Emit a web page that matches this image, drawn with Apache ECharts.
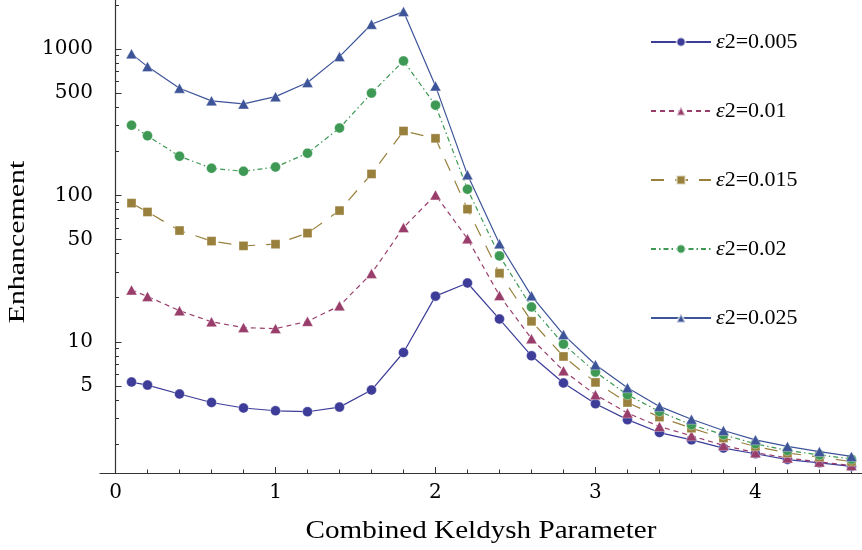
<!DOCTYPE html>
<html>
<head>
<meta charset="utf-8">
<script src="https://cdn.jsdelivr.net/npm/echarts@6/dist/echarts.min.js"></script>
<style>
  html, body { margin: 0; padding: 0; background: #fff; }
  #main { width: 862px; height: 550px; }
</style>
</head>
<body>
<div id="main"></div>
<script>
// keldysh parameter (same for all curves)
var xs = [0.1, 0.2, 0.4, 0.6, 0.8, 1.0, 1.2, 1.4, 1.6, 1.8, 2.0, 2.2, 2.4, 2.6, 2.8, 3.0, 3.2, 3.4, 3.6, 3.8, 4.0, 4.2, 4.4, 4.6];

// enhancement
var e005 = [5.31, 5.06, 4.40, 3.85, 3.53, 3.38, 3.33, 3.58, 4.68, 8.45, 20.5, 25.2, 14.3, 8.02, 5.23, 3.78, 2.94, 2.40, 2.14, 1.88, 1.72, 1.57, 1.49, 1.41];
var e010 = [22.6, 20.4, 16.3, 13.7, 12.5, 12.3, 13.8, 17.6, 29.3, 60.3, 100.7, 50.5, 20.7, 10.5, 6.34, 4.35, 3.26, 2.64, 2.28, 1.96, 1.75, 1.61, 1.51, 1.43];
var e015 = [88.5, 77, 57.5, 48.7, 45.2, 46.4, 55.2, 78.7, 140, 275, 245, 80.5, 29.4, 13.8, 7.94, 5.28, 3.85, 3.06, 2.57, 2.20, 1.93, 1.74, 1.63, 1.52];
var e020 = [301, 255, 185, 153, 146, 156, 194, 288, 499, 828, 413, 110, 38.6, 17.3, 9.64, 6.21, 4.35, 3.34, 2.71, 2.32, 2.01, 1.81, 1.69, 1.58];
var e025 = [925, 757, 539, 442, 421, 472, 589, 886, 1474, 1798, 559, 138, 46.7, 20.6, 11.2, 6.97, 4.85, 3.62, 2.96, 2.48, 2.14, 1.93, 1.78, 1.65];

var names = ['ε2=0.005', 'ε2=0.01', 'ε2=0.015', 'ε2=0.02', 'ε2=0.025'];

// tick labels
var xLabels = [0, 1, 2, 3, 4];
var xMinor = [0.2, 0.4, 0.6, 0.8, 1.2, 1.4, 1.6, 1.8, 2.2, 2.4, 2.6, 2.8, 3.2, 3.4, 3.6, 3.8, 4.2, 4.4, 4.6];
var yLabels = [5, 10, 50, 100, 500, 1000];
var yMinor = [2, 3, 4, 6, 7, 8, 9, 20, 30, 40, 60, 70, 80, 90, 200, 300, 400, 600, 700, 800, 900, 2000];

var serif = 'Liberation Serif, Times New Roman, serif';
var tickFont = 'DejaVu Serif, serif';
var lg = Math.log10;

function pts(vals) {
  return xs.map(function(x, i) { return [x, lg(vals[i])]; });
}

var myechart = echarts.init(document.getElementById('main'));

var styles = [
  { c: '#3d3d99', sym: 'circle', size: 10, type: 'solid' },
  { c: '#993d6b', sym: 'triangle', size: [11, 10], type: [5, 4] },
  { c: '#99803d', sym: 'rect', size: 9, type: [13, 11] },
  { c: '#3d9954', sym: 'circle', size: 10, type: [5, 3, 1.5, 3] },
  { c: '#3d5499', sym: 'triangle', size: [11, 10], type: 'solid' }
];
var sets = [e005, e010, e015, e020, e025];

var series = sets.map(function(vals, i) {
  var s = styles[i];
  return {
    name: names[i],
    type: 'line',
    data: pts(vals),
    symbol: s.sym,
    symbolSize: s.size,
    showSymbol: true,
    color: s.c,
    itemStyle: { color: s.c, borderColor: 'rgba(255,255,255,0.6)', borderWidth: 0.6 },
    lineStyle: { color: s.c, width: 1.2, type: s.type },
    emphasis: { disabled: true },
    animation: false,
    z: 2 + i
  };
});

myechart.setOption({
  animation: false,
  grid: { left: 100, right: 0, top: 0, bottom: 77 },
  legend: {
    orient: 'vertical',
    left: 645,
    top: 26,
    itemWidth: 60,
    itemHeight: 11,
    itemGap: 47,
    data: names,
    textStyle: {
      fontFamily: serif, fontSize: 22, color: '#000',
      rich: { e: { fontFamily: serif, fontSize: 22, fontStyle: 'italic', color: '#000' } }
    },
    formatter: function(n) { return '{e|ε}' + n.slice(1); }
  },
  xAxis: [
    {
      type: 'value',
      min: -0.097,
      max: 4.666,
      axisLine: { lineStyle: { color: '#333', width: 1.2 } },
      splitLine: { show: false },
      axisTick: { inside: true, length: 6, customValues: xLabels, lineStyle: { color: '#333' } },
      axisLabel: { customValues: xLabels, margin: 10, fontFamily: tickFont, fontSize: 20, color: '#000' }
    },
    {
      type: 'value',
      min: -0.097,
      max: 4.666,
      position: 'bottom',
      axisLine: { show: false },
      splitLine: { show: false },
      axisTick: { inside: true, length: 3.5, customValues: xMinor, lineStyle: { color: '#333' } },
      axisLabel: { show: false }
    }
  ],
  yAxis: [
    {
      type: 'value',
      min: 0.104,
      max: 3.334,
      axisLine: { show: true, lineStyle: { color: '#333', width: 1.2 } },
      splitLine: { show: false },
      axisTick: { show: true, inside: true, length: 6, customValues: yLabels.map(lg), lineStyle: { color: '#333' } },
      axisLabel: {
        customValues: yLabels.map(lg), margin: 7, fontFamily: tickFont, fontSize: 20, color: '#000',
        formatter: function(v) { return String(Math.round(Math.pow(10, v))); }
      }
    },
    {
      type: 'value',
      min: 0.104,
      max: 3.334,
      position: 'left',
      axisLine: { show: false },
      splitLine: { show: false },
      axisTick: { show: true, inside: true, length: 3.5, customValues: yMinor.map(lg), lineStyle: { color: '#333' } },
      axisLabel: { show: false }
    }
  ],
  graphic: [
    {
      type: 'text', x: 481, y: 531, scaleX: 1.12,
      style: { text: 'Combined Keldysh Parameter', x: 0, y: 0, align: 'center', verticalAlign: 'middle', font: '26px ' + serif, fill: '#000' }
    },
    {
      type: 'text', x: 18, y: 242, rotation: Math.PI / 2, scaleX: 1.3,
      style: { text: 'Enhancement', x: 0, y: 0, align: 'center', verticalAlign: 'middle', font: '23px ' + serif, fill: '#000' }
    }
  ],
  series: series
});
</script>
</body>
</html>
